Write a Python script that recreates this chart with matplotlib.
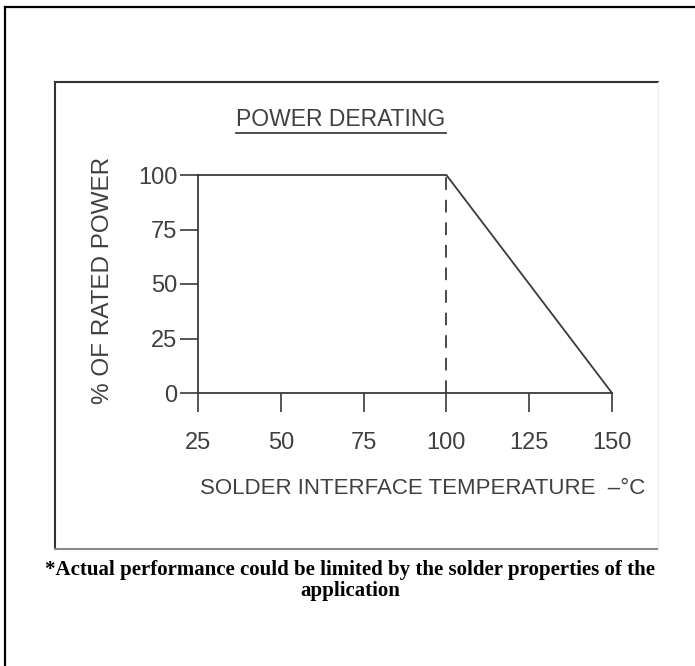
import matplotlib
matplotlib.use("Agg")
import matplotlib.pyplot as plt
from matplotlib.lines import Line2D

# derating curve
temps = [25, 100, 150]
power = [100, 100, 0]
x_ticks = [25, 50, 75, 100, 125, 150]
y_ticks = [0, 25, 50, 75, 100]
knee = temps[1]

W, H = 695, 666
ink = "#3a3a3a"
txt = "#404040"
cad = "Liberation Sans"

fig = plt.figure(figsize=(W / 100, H / 100), dpi=100)

def px(x, y):
    # pixel (from top-left) -> figure fraction
    return x / W, 1 - y / H

# outer border (left + top only)
fig.add_artist(Line2D([5 / W, 5 / W], [0, 1 - 7 / H], color="black", lw=1.6))
fig.add_artist(Line2D([5 / W, 1], [1 - 7 / H, 1 - 7 / H], color="black", lw=1.6))

# inner frame of the drawing
x0, y0 = px(55, 82)
x1, y1 = px(658, 549)
fig.add_artist(Line2D([x0, x0], [y1, y0], color="#333333", lw=1.5))
fig.add_artist(Line2D([x0, x1], [y0, y0], color="#333333", lw=1.5))
fig.add_artist(Line2D([x0, x1], [y1, y1], color="#8a8a8a", lw=1.5))
fig.add_artist(Line2D([x1, x1], [y1, y0], color="#ececec", lw=0.8))

ax = fig.add_axes([198 / W, 273 / H, 414 / W, 218 / H])
ax.set_xlim(x_ticks[0], x_ticks[-1])
ax.set_ylim(y_ticks[0], y_ticks[-1])
ax.patch.set_visible(False)
for s in ["top", "right"]:
    ax.spines[s].set_visible(False)
for s in ["left", "bottom"]:
    ax.spines[s].set_color(ink)
    ax.spines[s].set_linewidth(1.3)

ax.plot(temps, power, color=ink, lw=1.3, clip_on=False)
ax.plot([knee, knee], [y_ticks[0], y_ticks[-1]], color=ink, lw=1.3,
        ls=(0, (7, 5.5)), clip_on=False)

ax.set_xticks(x_ticks)
ax.set_yticks(y_ticks)
ax.set_xticklabels([str(v) for v in x_ticks])
ax.set_yticklabels([str(v) for v in y_ticks])
ax.tick_params(axis="x", length=14, width=1.2, color=ink, pad=14,
               labelsize=17, labelcolor=txt)
ax.tick_params(axis="y", length=13, width=1.2, color=ink, pad=2,
               labelsize=17, labelcolor=txt)
for lab in ax.get_xticklabels() + ax.get_yticklabels():
    lab.set_fontfamily(cad)

# title with underline
tx, ty = px(341, 120)
title = fig.text(tx, ty, "POWER DERATING", ha="center", va="center",
                 fontsize=16.5, color=txt, family=cad)
fig.canvas.draw()
bb = title.get_window_extent().transformed(fig.transFigure.inverted())
uy = 1 - 133 / H
fig.add_artist(Line2D([bb.x0, bb.x1], [uy, uy], color=txt, lw=1.3))

lx, ly = px(423, 488)
fig.text(lx, ly, "SOLDER INTERFACE TEMPERATURE  \u2013\u00b0C", ha="center",
         va="center", fontsize=16, color=txt, family=cad)
yx, yy = px(103, 280)
fig.text(yx, yy, "% OF RATED POWER", ha="center", va="center", rotation=90,
         fontsize=17.5, color=txt, family=cad)

# footnote
fx, fy = px(350, 570)
fig.text(fx, fy, "*Actual performance could be limited by the solder properties of the",
         ha="center", va="center", fontsize=15, fontweight="bold",
         family="Liberation Serif", color="black")
fx, fy = px(350, 591)
fig.text(fx, fy, "application", ha="center", va="center", fontsize=15,
         fontweight="bold", family="Liberation Serif", color="black")

fig.savefig("out.png", dpi=100)
